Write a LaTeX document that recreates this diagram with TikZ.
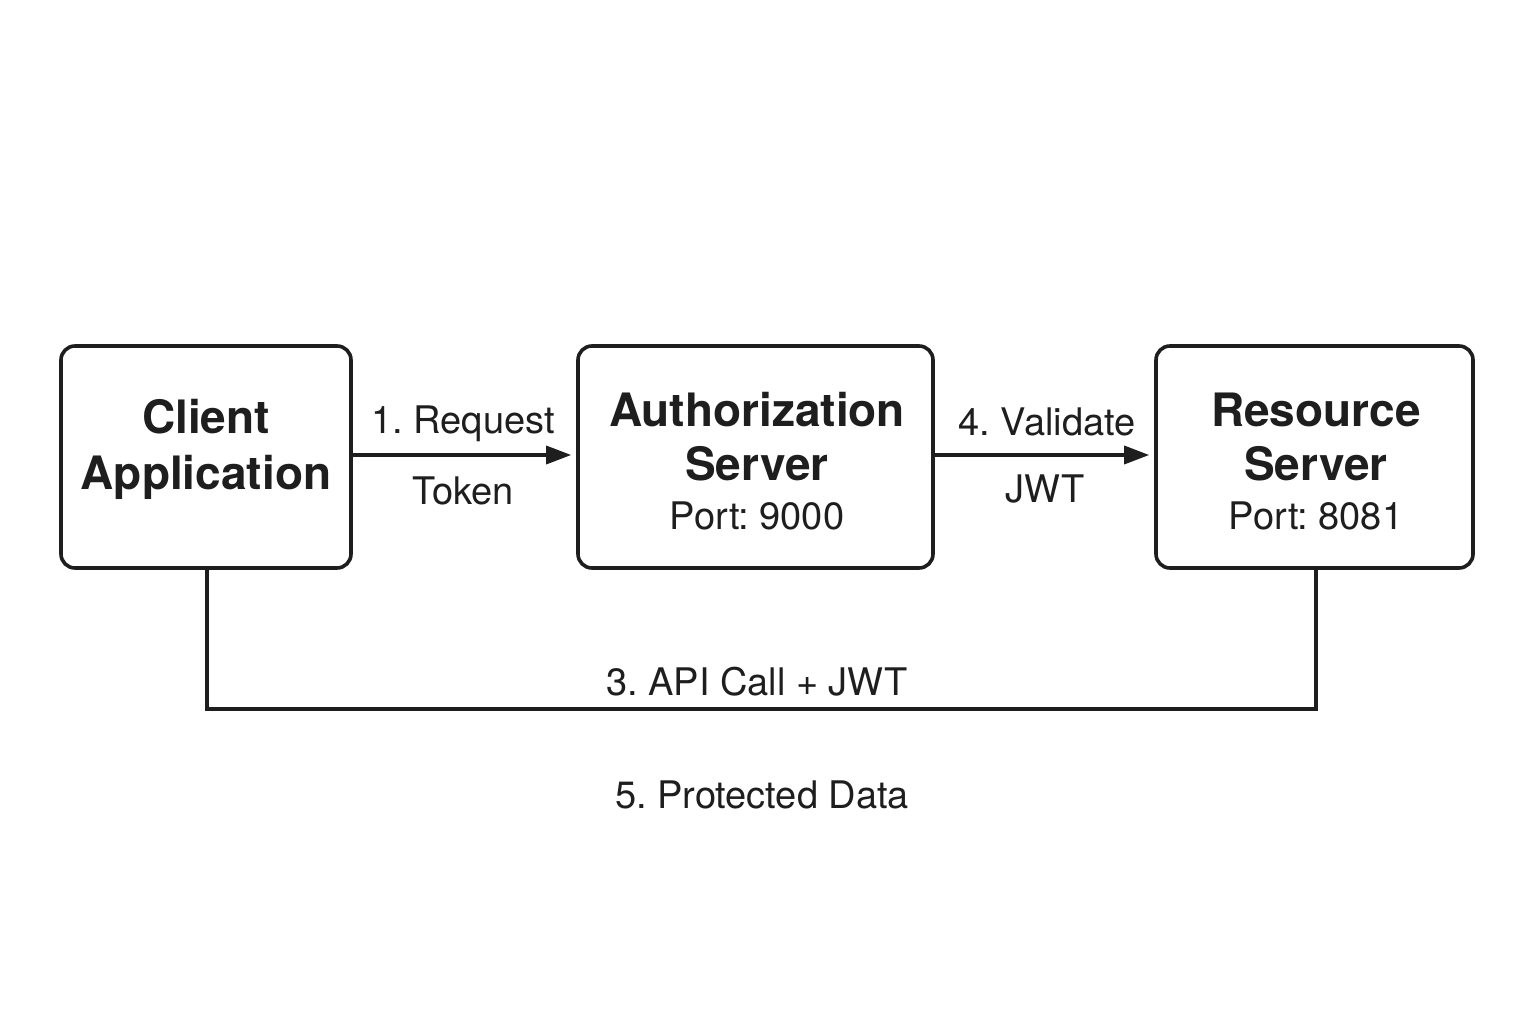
\documentclass[tikz,border=0pt]{standalone}
\usepackage{fontspec}
\setmainfont{TeX Gyre Heros}
\usetikzlibrary{arrows.meta,calc}
\definecolor{ink}{HTML}{1E1E1E}
\frenchspacing
\begin{document}
\begin{tikzpicture}[x=1pt,y=-1pt,
  box/.style={draw=ink,line width=3.6pt,rounded corners=14pt,fill=white,inner sep=0pt},
  title/.style={anchor=base,text=ink,font=\fontsize{46}{55}\selectfont\bfseries},
  lbl/.style={anchor=base,text=ink,font=\fontsize{38}{45}\selectfont},
  conn/.style={draw=ink,line width=3.4pt},
  arr/.style={conn,-{Triangle[length=25pt,width=18pt]},shorten >=5pt}]
\useasboundingbox (0,0) rectangle (1536,1024);
\fill[white] (0,0) rectangle (1536,1024);
% boxes
\node[box,minimum width=290pt,minimum height=222pt] (client) at (206,457) {};
\node[box,minimum width=355pt,minimum height=222pt] (auth) at (755.5,457) {};
\node[box,minimum width=317pt,minimum height=222pt] (res) at (1314.5,457) {};
% box texts
\node[title] (t1) at (206,433) {Client};
\node[title] (t2) at (206,489) {Application};
\node[title] (t3) at (757,426) {Authorization};
\node[title] (t4) at (757,480) {Server};
\node[lbl] (t5) at (757,529) {Port: 9000};
\node[title] (t6) at (1316,426) {Resource};
\node[title] (t7) at (1316,480) {Server};
\node[lbl] (t8) at (1316,529) {Port: 8081};
% arrows
\draw[arr] ([yshift=2pt]client.east) -- ([yshift=2pt]auth.west);
\draw[arr] ([yshift=2pt]auth.east) -- ([yshift=2pt]res.west);
\node[lbl] (l1) at (463,433) {1. Request};
\node[lbl] (l2) at (463,504) {Token};
\node[lbl] (l3) at (1047,435) {4. Validate};
\node[lbl] (l4) at (1045,502) {JWT};
% bottom connector
\coordinate (bl) at (207,709);
\draw[conn] ([xshift=1pt]client.south) -- ([xshift=1pt]client.south |- bl) -| ([xshift=1.5pt]res.south);
\node[lbl] (l5) at (757,695) {3. API Call + JWT};
\node[lbl] (l6) at (762,808) {5. Protected Data};
\end{tikzpicture}
\end{document}
